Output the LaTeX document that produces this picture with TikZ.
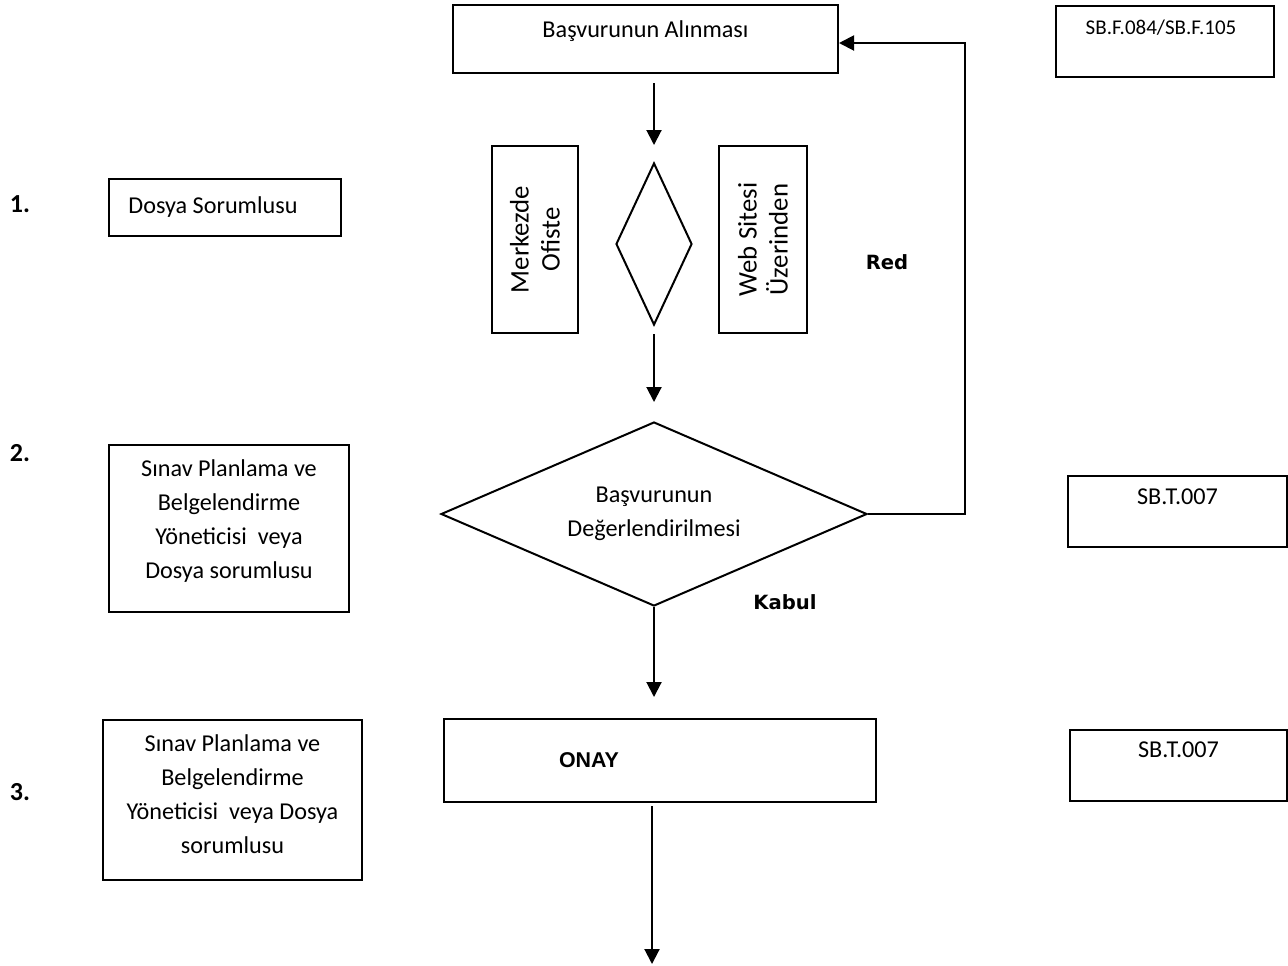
\documentclass[tikz,border=0pt]{standalone}
\usepackage{fontspec}
\setmainfont{Carlito}
\newfontfamily\verdanafont{DejaVu Sans}
\newfontfamily\arialfont{Liberation Sans}
\usetikzlibrary{arrows.meta,positioning,shapes.geometric}

\tikzset{
  box/.style={draw,line width=1pt,rectangle,inner sep=0pt,font=\fontsize{12.1}{17}\selectfont},
  choice/.style={draw,line width=1pt,diamond,inner sep=0pt,font=\fontsize{12.1}{17}\selectfont},
  flow/.style={line width=1pt,-{Triangle[length=7.5pt,width=7.5pt]}},
  stepno/.style={font=\fontsize{13}{15}\selectfont\bfseries},
  branch/.style={font=\verdanafont\fontsize{9.8}{12}\selectfont\bfseries}
}

\begin{document}
\begin{tikzpicture}[x=0.5pt,y=-0.5pt]
    \useasboundingbox (0,0) rectangle (1288,965);
    % main column
    \node[box,minimum width=192.5pt,minimum height=34pt,text height=8pt,text depth=9.5pt] (basvuru) at (645.5,39){Başvurunun Alınması};
    \node[choice,minimum width=38pt,minimum height=81pt] (kanal) at (654,244){};
    \node[box,rotate=90,minimum width=93.5pt,minimum height=43pt,align=center,font=\fontsize{13.4}{15.5}\selectfont] (merkez) at (535,239.5){Merkezde\\Ofiste};
    \node[box,rotate=90,minimum width=93.5pt,minimum height=44pt,align=center,font=\fontsize{13.4}{15.5}\selectfont] (web) at (763,239.5){Web Sitesi\\Üzerinden};
    \node[choice,aspect=2.3,minimum width=213pt,minimum height=92pt,align=center] (degerlendirme) at (654,514){Başvurunun\\Değerlendirilmesi};
    \node[box,minimum width=216pt,minimum height=41.5pt,font=\arialfont\bfseries\fontsize{10.7}{12}\selectfont] (onay) at (660,760.5){ONAY\hspace*{71pt}};
    \coordinate (redcorner) at (965,43);
    \coordinate (son) at (652,964);
    \node[branch] (red) at (887,262){Red};
    \node[branch] (kabul) at (785,602){Kabul};
    % steps and responsibles
    \node[stepno] (no1) at (20,204){1.};
    \node[stepno] (no2) at (20,453){2.};
    \node[stepno] (no3) at (20,792){3.};
    \node[box,minimum width=116pt,minimum height=28.5pt] (dosya) at (225,207.5){Dosya Sorumlusu\hspace*{12pt}};
    \node[box,minimum width=120pt,minimum height=83.5pt,align=center,text depth=9pt] (yonetici) at (229,528.5){Sınav Planlama ve\\Belgelendirme\\Yöneticisi\ \ veya\\Dosya sorumlusu};
    \node[box,minimum width=129.5pt,minimum height=80pt,align=center,text depth=6pt] (onaylayan) at (232.5,800){Sınav Planlama ve\\Belgelendirme\\Yöneticisi\ \ veya Dosya\\sorumlusu};
    % documents
    \node[box,minimum width=109pt,minimum height=35.5pt,text height=7.5pt,text depth=15pt,font=\fontsize{10.5}{13}\selectfont] (form) at (1165,41.5){SB.F.084/SB.F.105\hspace*{4pt}};
    \node[box,minimum width=109.5pt,minimum height=35.5pt,text height=8pt,text depth=15pt] (talimat1) at (1177.5,511.5){SB.T.007};
    \node[box,minimum width=108.5pt,minimum height=35.5pt,text height=8pt,text depth=16pt] (talimat2) at (1178.5,765.5){SB.T.007};
    % connectors
    \draw[flow,shorten <=4.5pt,shorten >=8.5pt] (kanal.north |- basvuru.south) -- (kanal.north);
    \draw[flow,shorten <=4pt,shorten >=9.5pt] (kanal.south) -- (degerlendirme.north);
    \draw[flow] (degerlendirme.east) -| (redcorner) -- (basvuru.east |- redcorner);
    \draw[flow,shorten >=10.5pt] (degerlendirme.south) -- (degerlendirme.south |- onay.north);
    \draw[flow,shorten <=1.5pt] (son |- onay.south) -- (son);
  \end{tikzpicture}
\end{document}
